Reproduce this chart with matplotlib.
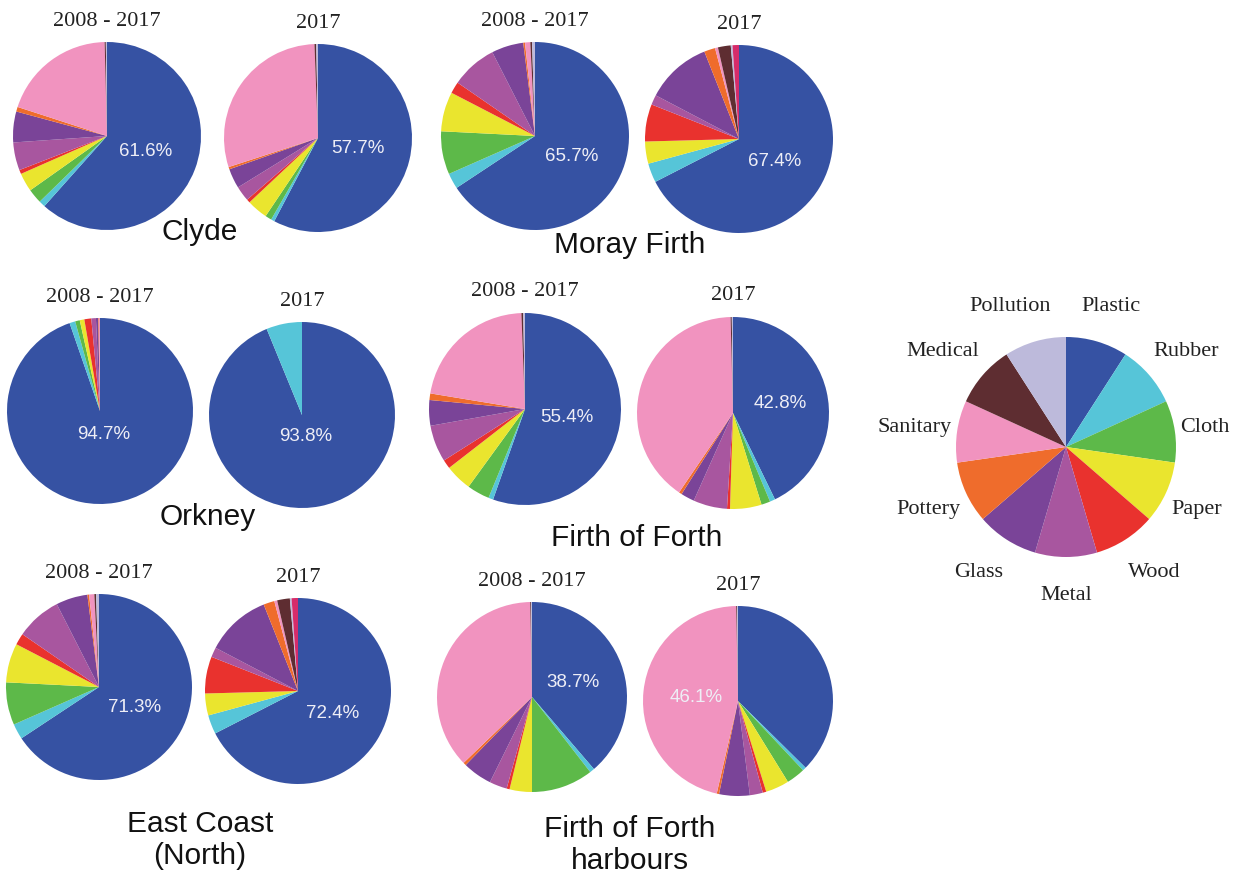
import numpy as np
import matplotlib.pyplot as plt

# categories clockwise from 12 o'clock; "Other" is the unlabelled crimson sliver
categories = ["Plastic", "Rubber", "Cloth", "Paper", "Wood", "Metal", "Glass",
              "Pottery", "Sanitary", "Medical", "Pollution", "Other"]
colors = ["#3652A3", "#56C5D8", "#5DB949", "#EAE52E", "#E9322E", "#A8569F",
          "#7A4498", "#EF6C2C", "#F193BF", "#5E2D31", "#BDBADB", "#D62C6A"]

# percentages (same order as categories)
clyde_all = [61.6, 1.1, 2.5, 3.2, 0.7, 4.8, 5.3, 0.8, 19.6, 0.2, 0.2, 0.0]
clyde_2017 = [57.7, 0.6, 1.1, 3.6, 0.6, 2.6, 3.4, 0.4, 29.4, 0.3, 0.3, 0.0]
moray_all = [65.7, 2.7, 7.4, 6.8, 2.0, 7.9, 5.5, 0.3, 0.9, 0.3, 0.5, 0.0]
moray_2017 = [67.4, 3.3, 0.0, 3.8, 6.4, 1.7, 11.3, 1.9, 0.5, 2.2, 0.3, 1.1]
orkney_all = [94.7, 1.0, 0.8, 0.8, 1.2, 0.8, 0.4, 0.1, 0.2, 0.0, 0.0, 0.0]
orkney_2017 = [93.8, 6.2, 0, 0, 0, 0, 0, 0, 0, 0, 0, 0]
forth_all = [55.4, 0.8, 3.8, 4.5, 1.5, 6.2, 4.3, 1.1, 21.8, 0.3, 0.3, 0.0]
forth_2017 = [42.8, 0.9, 1.5, 5.3, 0.5, 5.7, 2.3, 0.5, 40.1, 0.2, 0.2, 0.0]
east_all = [65.7, 2.7, 7.4, 6.8, 2.0, 7.9, 5.5, 0.3, 0.9, 0.3, 0.5, 0.0]
east_2017 = [67.4, 3.3, 0.0, 3.8, 6.4, 1.7, 11.3, 1.9, 0.5, 2.2, 0.3, 1.1]
harb_all = [38.7, 0.8, 10.5, 3.8, 0.5, 3.0, 5.0, 0.5, 36.9, 0.15, 0.15, 0.0]
harb_2017 = [37.4, 0.6, 3.2, 4.0, 0.6, 2.2, 5.2, 0.4, 46.1, 0.15, 0.15, 0.0]

# printed percentage and which slice it belongs to
pct_labels = {"clyde_all": ("61.6%", 0), "clyde_2017": ("57.7%", 0),
              "moray_all": ("65.7%", 0), "moray_2017": ("67.4%", 0),
              "orkney_all": ("94.7%", 0), "orkney_2017": ("93.8%", 0),
              "forth_all": ("55.4%", 0), "forth_2017": ("42.8%", 0),
              "east_all": ("71.3%", 0), "east_2017": ("72.4%", 0),
              "harb_all": ("38.7%", 0), "harb_2017": ("46.1%", 8)}

W, H = 1254, 878
fig = plt.figure(figsize=(W / 100, H / 100), dpi=100)
ax = fig.add_axes([0, 0, 1, 1])

serif = ["Liberation Serif", "DejaVu Serif"]
sans = ["Liberation Sans", "DejaVu Sans"]


def draw_pie(vals, cx, cy, r, key, title, pdist=0.44):
    y = H - cy
    vals = np.array(vals, dtype=float)
    ax.pie(vals, colors=colors, startangle=90, counterclock=False,
           center=(cx, y), radius=r, wedgeprops=dict(linewidth=0))
    txt, idx = pct_labels[key]
    frac = vals / vals.sum()
    mid = (np.cumsum(frac)[idx] - frac[idx] / 2) * 2 * np.pi
    ax.text(cx + pdist * r * np.sin(mid), y + pdist * r * np.cos(mid), txt,
            color="#EEEEF6", fontsize=13.5, ha="center", va="center",
            family=sans)
    ax.text(cx, H - (cy - r - 22), title, fontsize=16, ha="center",
            va="center", family=serif, color="#222222")


draw_pie(clyde_all, 107, 137, 94, "clyde_all", "2008 - 2017")
draw_pie(clyde_2017, 318, 139, 94, "clyde_2017", "2017")
draw_pie(moray_all, 535, 137, 94, "moray_all", "2008 - 2017")
draw_pie(moray_2017, 739, 140, 94, "moray_2017", "2017")
draw_pie(orkney_all, 100, 412, 93, "orkney_all", "2008 - 2017", 0.25)
draw_pie(orkney_2017, 302, 416, 93, "orkney_2017", "2017", 0.22)
draw_pie(forth_all, 525, 410, 96, "forth_all", "2008 - 2017")
draw_pie(forth_2017, 733, 414, 96, "forth_2017", "2017", 0.5)
draw_pie(east_all, 99, 688, 93, "east_all", "2008 - 2017")
draw_pie(east_2017, 298, 692, 93, "east_2017", "2017")
draw_pie(harb_all, 532, 698, 95, "harb_all", "2008 - 2017", 0.46)
draw_pie(harb_2017, 738, 702, 95, "harb_2017", "2017")

regions = [("Clyde", 200, 232), ("Moray Firth", 630, 245), ("Orkney", 208, 517),
           ("Firth of Forth", 637, 538), ("East Coast\n(North)", 200, 840),
           ("Firth of Forth\nharbours", 630, 845)]
for name, x, y in regions:
    ax.text(x, H - y, name, fontsize=21.5, ha="center", va="center",
            family=sans, color="#111111", linespacing=1.2)

# legend pie: equal slices for the 11 named categories
legend_cats = categories[:11]
lcx, lcy, lr = 1066, 448, 110
ax.pie(np.ones(len(legend_cats)), colors=colors[:11], startangle=90,
       counterclock=False, center=(lcx, H - lcy), radius=lr,
       wedgeprops=dict(linewidth=0))
n = len(legend_cats)
for i, name in enumerate(legend_cats):
    a = (i + 0.5) / n * 2 * np.pi
    sx, cy_ = np.sin(a), np.cos(a)
    # top labels sit closer to the vertical, like the original layout
    kx = 1.05 if abs(cy_) < 0.9 else 0.5
    x = lcx + kx * lr * sx
    y = H - lcy + 1.34 * lr * cy_
    ha = "center" if abs(sx) < 0.05 else ("left" if sx > 0 else "right")
    ax.text(x, y, name, fontsize=16, ha=ha, va="center", family=serif,
            color="#222222")

ax.set_xlim(0, W)
ax.set_ylim(0, H)
ax.set_aspect("equal")
ax.axis("off")
fig.savefig("out.png", dpi=100)
